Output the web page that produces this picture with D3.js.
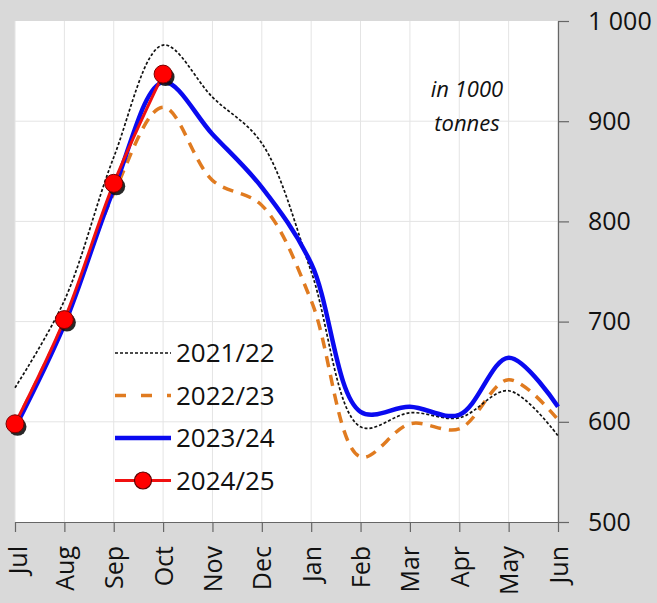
<!DOCTYPE html>
<html>
<head>
<meta charset="utf-8">
<script src="https://cdn.jsdelivr.net/npm/d3@7"></script>
<style>
  body { margin: 0; background: #d9d9d9; }
  text { font-family: 'Open Sans', sans-serif; fill: #111; }
</style>
</head>
<body>
<div id="chart"></div>
<script>
const width = 657, height = 603;
const margin = ({top: 21, right: 99, bottom: 81, left: 15});

const months = ["Jul","Aug","Sep","Oct","Nov","Dec","Jan","Feb","Mar","Apr","May","Jun"];
const yTicks = [500, 600, 700, 800, 900, 1000];

// values in 1000 tonnes
const s2122 = [634, 721, 864, 976, 924, 878, 750, 595, 609, 604, 631, 586];
const s2223 = [597, 700, 828, 914, 841, 816, 721, 565, 598, 593, 642, 602];
const s2324 = [594, 697, 832, 939, 887, 834, 758, 610, 615, 607, 664, 615];
const s2425 = [598, 702, 838, 947];

const x = d3.scalePoint()
    .domain(months)
    .range([margin.left, width - margin.right]);

const y = d3.scaleLinear()
    .domain([500, 1000])
    .range([height - margin.bottom, margin.top]);

const svg = d3.select("#chart")
  .append("svg")
    .attr("width", width)
    .attr("height", height);

svg.append("rect")
    .attr("width", width).attr("height", height)
    .attr("fill", "#d9d9d9");

svg.append("rect")
    .attr("x", margin.left).attr("y", margin.top)
    .attr("width", width - margin.right - margin.left)
    .attr("height", height - margin.bottom - margin.top)
    .attr("fill", "#fff");

// grid
svg.append("g")
  .selectAll("line")
  .data(months)
  .join("line")
    .attr("x1", d => x(d)).attr("x2", d => x(d))
    .attr("y1", margin.top).attr("y2", height - margin.bottom)
    .attr("stroke", "#e4e4e4").attr("stroke-width", 1);

svg.append("g")
  .selectAll("line")
  .data(yTicks.slice(1, -1))
  .join("line")
    .attr("x1", margin.left).attr("x2", width - margin.right)
    .attr("y1", d => y(d)).attr("y2", d => y(d))
    .attr("stroke", "#e4e4e4").attr("stroke-width", 1);

// axes
const yAxis = svg.append("g")
    .attr("transform", `translate(${width - margin.right},0)`)
    .call(d3.axisRight(y)
      .tickValues(yTicks)
      .tickSize(11)
      .tickSizeOuter(0)
      .tickPadding(19)
      .tickFormat(d => d === 1000 ? "1 000" : d));
yAxis.select(".domain").attr("stroke", "#666").attr("stroke-width", 1.2);
yAxis.selectAll(".tick line").attr("stroke", "#666").attr("stroke-width", 1.2);
yAxis.selectAll("text").attr("font-size", 25).attr("fill", "#111")
    .style("font-family", "'Open Sans', sans-serif");

const xAxis = svg.append("g")
    .attr("transform", `translate(0,${height - margin.bottom})`)
    .call(d3.axisBottom(x).tickSize(10).tickSizeOuter(0));
xAxis.select(".domain").attr("stroke", "#666").attr("stroke-width", 1.2);
xAxis.selectAll(".tick line").attr("stroke", "#666").attr("stroke-width", 1.2);
xAxis.selectAll("text")
    .attr("transform", "rotate(-90)")
    .attr("text-anchor", "end")
    .attr("x", -24)
    .attr("y", (d, i) => i === 0 ? 2 : 0)
    .attr("dy", "0.36em")
    .attr("font-size", 25)
    .attr("fill", "#111")
    .style("font-family", "'Open Sans', sans-serif");

// lines
const line = d3.line()
    .x((d, i) => x(months[i]))
    .y(d => y(d))
    .curve(d3.curveCatmullRom.alpha(0.5));

const series = [
  {name: "2022/23", data: s2223, color: "#e07b20", width: 3.5, dash: "11,8"},
  {name: "2021/22", data: s2122, color: "#111", width: 1.7, dash: "3,2"},
  {name: "2023/24", data: s2324, color: "#0a0af0", width: 4.5, dash: null},
  {name: "2024/25", data: s2425, color: "#f01010", width: 3, dash: null}
];

svg.append("g")
  .selectAll("path")
  .data(series)
  .join("path")
    .attr("d", d => line(d.data))
    .attr("fill", "none")
    .attr("stroke", d => d.color)
    .attr("stroke-width", d => d.width)
    .attr("stroke-dasharray", d => d.dash)
    .attr("stroke-linecap", "butt");

// markers with shadow
const markers = svg.append("g");
markers.selectAll("circle.shadow")
  .data(s2425)
  .join("circle")
    .attr("class", "shadow")
    .attr("cx", (d, i) => x(months[i]) + 2.5)
    .attr("cy", d => y(d) + 3)
    .attr("r", 9)
    .attr("fill", "#111")
    .attr("opacity", 0.9);
markers.selectAll("circle.dot")
  .data(s2425)
  .join("circle")
    .attr("class", "dot")
    .attr("cx", (d, i) => x(months[i]))
    .attr("cy", d => y(d))
    .attr("r", 9)
    .attr("fill", "#ff0000")
    .attr("stroke", "#7a0000")
    .attr("stroke-width", 1);

// note
svg.append("text")
    .attr("x", 467).attr("y", 97)
    .attr("text-anchor", "middle")
    .attr("font-size", 22)
    .attr("font-style", "italic")
    .text("in 1000");
svg.append("text")
    .attr("x", 467).attr("y", 131)
    .attr("text-anchor", "middle")
    .attr("font-size", 22)
    .attr("font-style", "italic")
    .text("tonnes");

// legend
const legendOrder = [series[1], series[0], series[2], series[3]];
const legend = svg.append("g")
  .selectAll("g")
  .data(legendOrder)
  .join("g")
    .attr("transform", (d, i) => `translate(115,${353 + i * 42.5})`);

legend.append("line")
    .attr("x1", 0).attr("x2", 56)
    .attr("stroke", d => d.color)
    .attr("stroke-width", d => d.width)
    .attr("stroke-dasharray", d => d.dash === "11,8" ? "11,15" : d.dash);

legend.filter(d => d.name === "2024/25")
  .append("circle")
    .attr("cx", 28).attr("r", 8.5)
    .attr("fill", "#ff0000")
    .attr("stroke", "#5a0000")
    .attr("stroke-width", 1.2);

legend.append("text")
    .attr("x", 61)
    .attr("dy", "0.36em")
    .attr("font-size", 26)
    .text(d => d.name);
</script>
</body>
</html>
